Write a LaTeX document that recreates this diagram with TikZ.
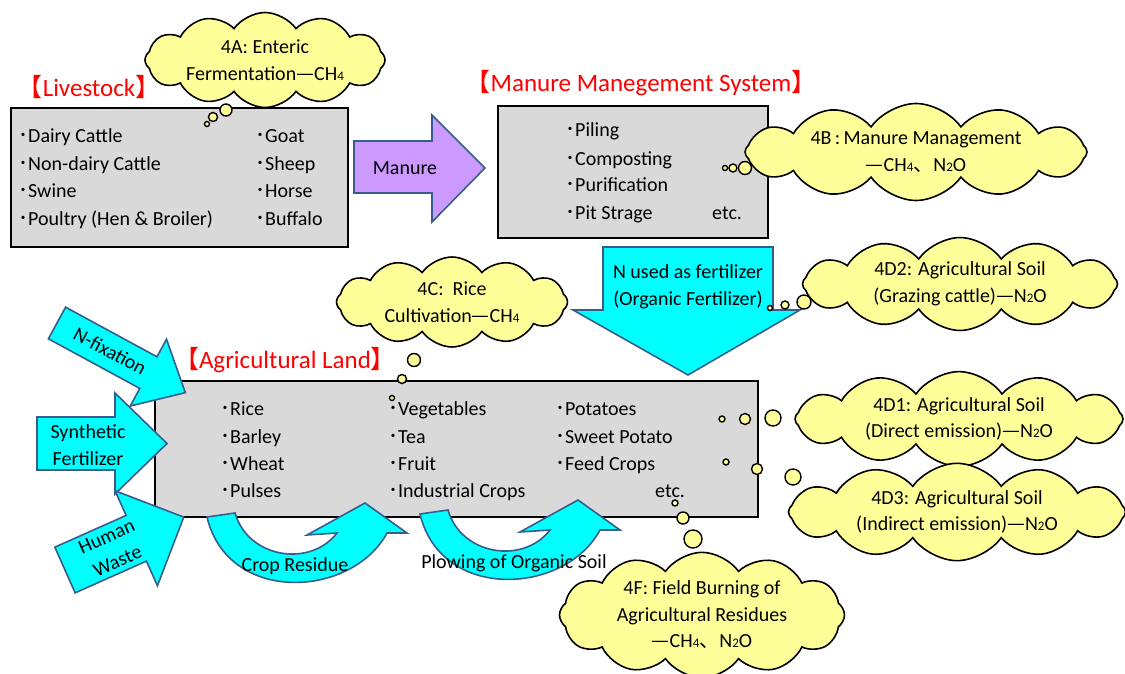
\documentclass[tikz,border=0pt]{standalone}
\usepackage{fontspec}
\setmainfont{Carlito}
\newfontfamily\cjk{Noto Sans CJK JP}
\usetikzlibrary{shapes.symbols}
\definecolor{boxgray}{HTML}{D9D9D9}
\definecolor{cloudfill}{HTML}{FFFF99}
\definecolor{arrcyan}{HTML}{00FFFF}
\definecolor{arrpurple}{HTML}{CC99FF}
\definecolor{arredge}{HTML}{385D8A}
\newcommand\bodyfont{\fontsize{20}{26.5}\selectfont}
\newcommand\headfont{\fontsize{25}{28}\selectfont}
\newcommand\lsub[1]{{\fontsize{13}{13}\selectfont #1}}
\newcommand\bulit{{\cjk ･}}
\newcommand\emdsh{{\cjk —}}
\newcommand\tcomma{{\cjk 、}}
\newcommand\lbrk{{\cjk 【}}
\newcommand\rbrk{{\cjk 】}}
% block arrow: x y rotate length shaftwidth headwidth headlength
\newcommand\blockarrow[7]{%
  \begin{scope}[shift={(#1,#2)},rotate=#3]
    \draw[blockarr] (0,-#5/2) -- (#4-#7,-#5/2) -- (#4-#7,-#6/2) -- (#4,0)
      -- (#4-#7,#6/2) -- (#4-#7,#5/2) -- (0,#5/2) -- cycle;
  \end{scope}}
\newcommand\uturnpath{(207,517) -- (235,513) .. controls (248,558) and (310,568) .. (337,533)
  -- (307,535) -- (365,503) -- (407,533) -- (387,533)
  .. controls (352,598) and (228,605) .. (207,517) -- cycle}
\begin{document}
\begin{tikzpicture}[x=1pt,y=-1pt,
  box/.style={draw=black, line width=1.8pt, fill=boxgray, inner sep=0pt, anchor=north west},
  item/.style={anchor=base west, inner sep=0pt, font=\bodyfont},
  head/.style={anchor=base, inner sep=0pt, font=\headfont, text=red},
  cloudy/.style={cloud, cloud puffs=12, cloud puff arc=110, cloud ignores aspect,
    draw=black, line width=1.6pt, fill=cloudfill, align=center, font=\bodyfont, inner sep=0pt},
  bub/.style={circle, draw=black, line width=1.4pt, fill=cloudfill, inner sep=0pt},
  blockarr/.style={draw=arredge, line width=1.6pt, fill=arrcyan, line join=miter},
  lbl/.style={font=\bodyfont, inner sep=0pt, align=center}]
\useasboundingbox (0,0) rectangle (1125,674);

% ---------- boxes ----------
\node[box, minimum width=337, minimum height=139] (live) at (10,107) {};
\node[box, minimum width=270, minimum height=132] (manbox) at (497,105) {};
\node[box, minimum width=603, minimum height=136] (agbox) at (154,380) {};

% ---------- headings ----------
\node[head] (hlive) at (89,97) {\lbrk Livestock\rbrk};
\node[head] (hman) at (641,92) {\lbrk Manure Manegement System\rbrk};
\node[head] (hag) at (285,368) {\lbrk Agricultural Land\rbrk};

% ---------- livestock items ----------
\node[item] (l1) at (18,143) {\bulit Dairy Cattle};
\node[item] (l2) at (18,170.5) {\bulit Non-dairy Cattle};
\node[item] (l3) at (18,197.5) {\bulit Swine};
\node[item] (l4) at (18,225) {\bulit Poultry (Hen \& Broiler)};
\node[item] (r1) at (255,143) {\bulit Goat};
\node[item] (r2) at (255,170.5) {\bulit Sheep};
\node[item] (r3) at (255,197.5) {\bulit Horse};
\node[item] (r4) at (255,225) {\bulit Buffalo};

% ---------- manure items ----------
\node[item] (m1) at (565,137) {\bulit Piling};
\node[item] (m2) at (565,166) {\bulit Composting};
\node[item] (m3) at (565,192) {\bulit Purification};
\node[item] (m4) at (565,219) {\bulit Pit Strage};
\node[item] (metc) at (712,219) {etc.};

% ---------- agricultural items ----------
\node[item] (a1) at (220,415.5) {\bulit Rice};
\node[item] (a2) at (220,443) {\bulit Barley};
\node[item] (a3) at (220,470) {\bulit Wheat};
\node[item] (a4) at (220,497.5) {\bulit Pulses};
\node[item] (b1) at (388,415.5) {\bulit Vegetables};
\node[item] (b2) at (388,443) {\bulit Tea};
\node[item] (b3) at (388,470) {\bulit Fruit};
\node[item] (b4) at (388,497.5) {\bulit Industrial Crops};
\node[item] (c1) at (555,415.5) {\bulit Potatoes};
\node[item] (c2) at (555,443) {\bulit Sweet Potato};
\node[item] (c3) at (555,470) {\bulit Feed Crops};
\node[item] (aetc) at (655,497.5) {etc.};

% ---------- block arrows ----------
\draw[blockarr, fill=arrpurple] (354,141) -- (432,141) -- (432,115) -- (485,168)
  -- (432,222) -- (432,193) -- (354,193) -- cycle;
\node[lbl] (manure) at (405,168) {Manure};

\draw[blockarr] (603,247) -- (773,247) -- (773,310) -- (800,310) -- (688,375)
  -- (573,310) -- (603,310) -- cycle;
\node[lbl] (nused) at (688,287) {N used as fertilizer\\(Organic Fertilizer)};

\blockarrow{57}{323}{-28.5}{146}{36}{76}{42}
\node[lbl, rotate=-28.5] (nfix) at (110,351) {N-fixation};
\blockarrow{37}{443.5}{0}{130}{53}{101}{52}
\node[lbl] (synth) at (88,445) {Synthetic\\Fertilizer};
\blockarrow{65}{570}{24}{130}{50}{104}{52}
\node[lbl, rotate=24] (human) at (112,549) {Human\\Waste};

% ---------- U-turn arrows ----------
\draw[blockarr] \uturnpath;
\begin{scope}[shift={(213,-3)}]
\draw[blockarr] \uturnpath;
\end{scope}
\node[lbl] (crop) at (295,566) {Crop Residue};
\node[lbl] (plow) at (514,563) {Plowing of Organic Soil};

% ---------- clouds ----------
\node[cloudy, minimum width=240, minimum height=95] (c4a) at (265,60)
  {4A: Enteric\\Fermentation\emdsh CH\lsub{4}};
\node[cloudy, minimum width=342, minimum height=97] (c4b) at (916,152)
  {4B\,:\,Manure Management\\\emdsh CH\lsub{4}\tcomma N\lsub{2}O};
\node[cloudy, minimum width=231, minimum height=90] (c4c) at (452,302)
  {4C:\ \ Rice\\Cultivation\emdsh CH\lsub{4}};
\node[cloudy, minimum width=315, minimum height=88] (c4d2) at (960,284)
  {4D2: Agricultural Soil\\(Grazing cattle)\emdsh N\lsub{2}O};
\node[cloudy, minimum width=328, minimum height=87] (c4d1) at (959,419)
  {4D1: Agricultural Soil\\(Direct emission)\emdsh N\lsub{2}O};
\node[cloudy, minimum width=337, minimum height=95] (c4d3) at (957,512)
  {4D3: Agricultural Soil\\(Indirect emission)\emdsh N\lsub{2}O};
\node[cloudy, minimum width=285, minimum height=115] (c4f) at (702,615)
  {4F: Field Burning of\\Agricultural Residues\\\emdsh CH\lsub{4}\tcomma N\lsub{2}O};

% ---------- thought bubbles ----------
\node[bub, minimum size=12] (a4a1) at (226,110) {};
\node[bub, minimum size=9] (a4a2) at (213,117) {};
\node[bub, minimum size=5] (a4a3) at (207,124) {};
\node[bub, minimum size=13] (b4b1) at (745,168) {};
\node[bub, minimum size=8] (b4b2) at (733,168) {};
\node[bub, minimum size=5] (b4b3) at (725,168) {};
\node[bub, minimum size=13] (c4c1) at (414,360) {};
\node[bub, minimum size=9] (c4c2) at (402,379) {};
\node[bub, minimum size=5] (c4c3) at (392,398) {};
\node[bub, minimum size=14] (d2b1) at (804,302) {};
\node[bub, minimum size=8] (d2b2) at (785,305) {};
\node[bub, minimum size=5] (d2b3) at (770,308) {};
\node[bub, minimum size=16] (d1b1) at (773,418) {};
\node[bub, minimum size=11] (d1b2) at (745,419) {};
\node[bub, minimum size=6] (d1b3) at (722,419) {};
\node[bub, minimum size=16] (d3b1) at (793,477) {};
\node[bub, minimum size=11] (d3b2) at (757,469) {};
\node[bub, minimum size=6] (d3b3) at (726,462) {};
\node[bub, minimum size=18] (fb1) at (693,539) {};
\node[bub, minimum size=12] (fb2) at (683,518) {};
\node[bub, minimum size=6] (fb3) at (675,503) {};
\end{tikzpicture}
\end{document}
